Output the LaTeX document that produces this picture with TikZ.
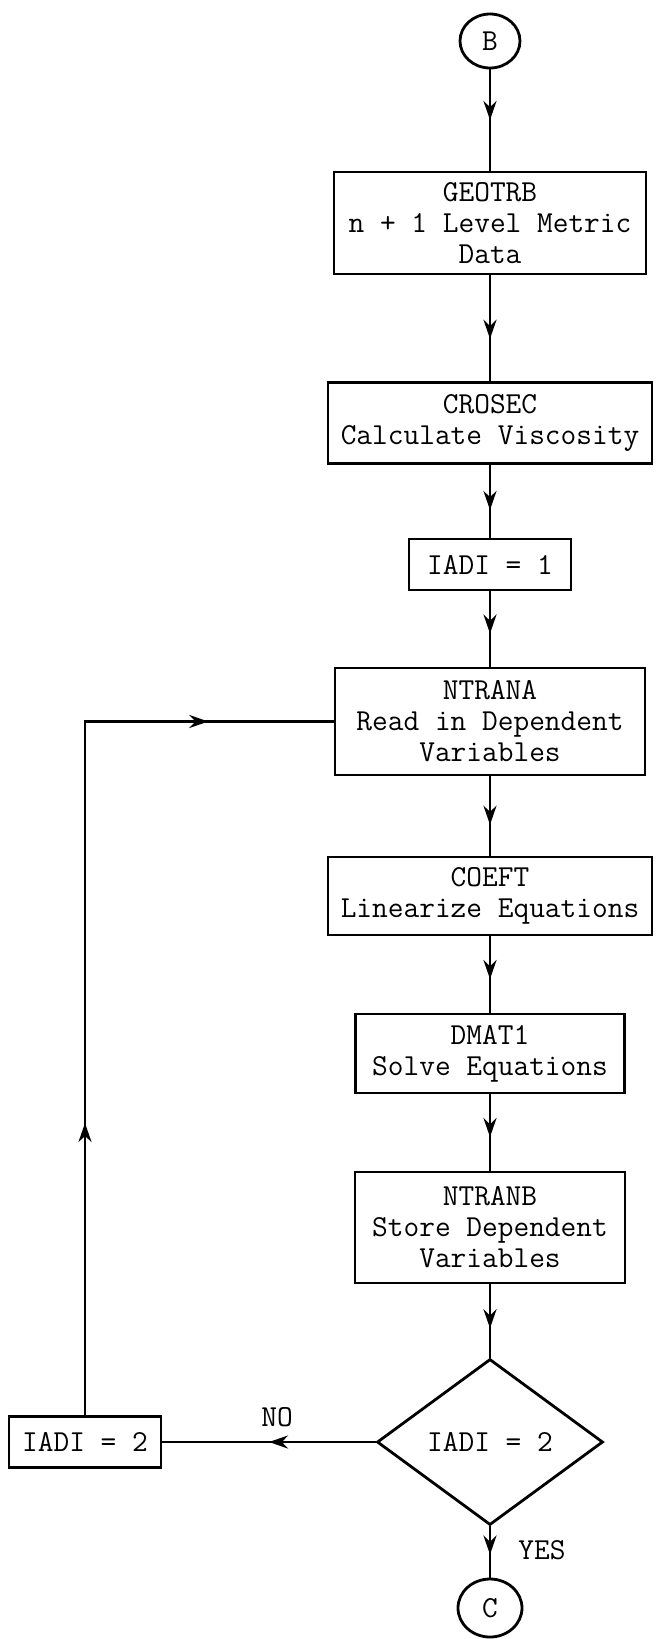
\documentclass[tikz,border=0pt]{standalone}
\usetikzlibrary{arrows.meta,shapes.geometric,decorations.markings}
\newcommand{\fc}{\fontsize{30.5}{31}\selectfont\ttfamily}
\tikzset{
  >={Stealth[length=19pt,width=13pt]},
  box/.style={draw, line width=2.8pt, align=center, font=\fc, inner sep=0pt},
  term/.style={box, ellipse},
  test/.style={box, diamond},
  flow/.style={line width=2.8pt},
  tipat/.style={postaction={decorate}, decoration={markings, mark=at position #1 with {\arrow{>}}}}
}

\begin{document}
\begin{tikzpicture}[x=1pt,y=-1pt]
\useasboundingbox (0,0) rectangle (656,1639);
\fill[white] (0,0) rectangle (656,1639);
\node[term, minimum width=60pt, minimum height=54pt] (b) at (490,41) {B};
\node[box, minimum width=312pt, minimum height=102pt] (geotrb) at (490,223) {GEOTRB\\n + 1 Level Metric\\Data};
\node[box, minimum width=324pt, minimum height=81pt] (crosec) at (490,423) {CROSEC\\Calculate Viscosity};
\node[box, minimum width=162pt, minimum height=51pt] (iadia) at (490,564.5) {IADI = 1};
\node[box, minimum width=310pt, minimum height=107pt] (ntrana) at (490,721.5) {NTRANA\\Read in Dependent\\Variables};
\node[box, minimum width=324pt, minimum height=78pt] (coeft) at (490,896) {COEFT\\Linearize Equations};
\node[box, minimum width=269pt, minimum height=79pt] (dmat) at (490,1053.5) {DMAT1\\Solve Equations};
\node[box, minimum width=270pt, minimum height=111pt] (ntranb) at (490,1227.5) {NTRANB\\Store Dependent\\Variables};
\node[test, minimum width=226pt, minimum height=166pt] (adi) at (490,1442) {IADI = 2};
\node[box, minimum width=152pt, minimum height=51pt] (iadib) at (85,1442) {IADI = 2};
\node[term, minimum width=64pt, minimum height=58pt] (c) at (490,1608) {C};
\node[font=\fc] (no) at (277,1417) {NO};
\node[font=\fc] (yes) at (542,1550) {YES};
% main column
\draw[flow, tipat=0.5] (b) -- (geotrb);
\draw[flow, tipat=0.6] (geotrb) -- (crosec);
\draw[flow, tipat=0.62] (crosec) -- (iadia);
\draw[flow, tipat=0.56] (iadia) -- (ntrana);
\draw[flow, tipat=0.61] (ntrana) -- (coeft);
\draw[flow, tipat=0.56] (coeft) -- (dmat);
\draw[flow, tipat=0.56] (dmat) -- (ntranb);
\draw[flow, tipat=0.6] (ntranb) -- (adi);
\draw[flow, tipat=0.55] (adi) -- (c);
% loop back
\draw[flow, tipat=0.5] (adi) -- (iadib);
\draw[flow, postaction={decorate}, decoration={markings,
  mark=at position 0.31 with {\arrow{>}},
  mark=at position 0.867 with {\arrow{>}}}] (iadib) |- (ntrana);
\end{tikzpicture}
\end{document}
